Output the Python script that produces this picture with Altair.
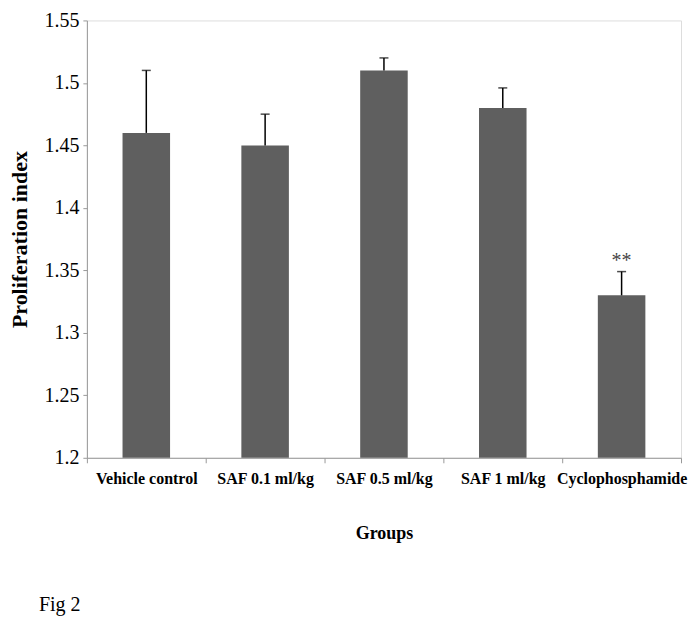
import altair as alt
import pandas as pd

groups = ["Vehicle control", "SAF 0.1 ml/kg", "SAF 0.5 ml/kg", "SAF 1 ml/kg", "Cyclophosphamide"]
means = [1.46, 1.45, 1.51, 1.48, 1.33]
errs = [0.05, 0.025, 0.01, 0.016, 0.019]
marks = ["", "", "", "", "**"]
y_ticks = [1.2, 1.25, 1.3, 1.35, 1.4, 1.45, 1.5, 1.55]

df = pd.DataFrame({"group": groups, "mean": means, "err": errs, "sig": marks})

SERIF = "Liberation Serif, Times New Roman, serif"

x_enc = alt.X(
    "group:N",
    sort=groups,
    scale=alt.Scale(paddingInner=0, paddingOuter=0),
    axis=alt.Axis(
        title="Groups",
        labelAngle=0,
        labelFont=SERIF,
        labelFontSize=16,
        labelFontWeight="bold",
        labelColor="black",
        labelPadding=8,
        titleFont=SERIF,
        titleFontSize=18,
        titleFontWeight="bold",
        titleColor="black",
        titlePadding=38,
        tickBand="extent",
        tickSize=5,
        tickColor="#999999",
        domainColor="#999999",
    ),
)

y_scale = alt.Scale(domain=[1.2, 1.55], zero=False, nice=False)

bars = alt.Chart(df).mark_bar(color="#5f5f5f", width=alt.RelativeBandSize(0.4)).encode(
    x=x_enc,
    y=alt.Y(
        "mean:Q",
        scale=y_scale,
        axis=alt.Axis(
            title="Proliferation index",
            values=y_ticks,
            format=".2~f",
            grid=False,
            labelFont=SERIF,
            labelFontSize=20,
            labelColor="black",
            labelPadding=4,
            titleFont=SERIF,
            titleFontSize=22,
            titleFontWeight="bold",
            titleColor="black",
            titlePadding=12,
            tickSize=4,
            tickColor="#999999",
            domainColor="#999999",
        ),
    ),
    y2=alt.datum(1.2),
)

base = alt.Chart(df).transform_calculate(top="datum.mean + datum.err")

err_rule = base.mark_rule(color="black", strokeWidth=1.5).encode(
    x=alt.X("group:N", sort=groups),
    y=alt.Y("mean:Q", scale=y_scale),
    y2="top:Q",
)

caps = base.mark_tick(color="black", size=9, thickness=1.5).encode(
    x=alt.X("group:N", sort=groups),
    y=alt.Y("top:Q", scale=y_scale),
)

sig_text = base.mark_text(font=SERIF, fontSize=20, color="#444444", dy=-11).encode(
    x=alt.X("group:N", sort=groups),
    y=alt.Y("top:Q", scale=y_scale),
    text="sig:N",
)

fig_label = alt.Chart(pd.DataFrame({"t": ["Fig 2"]})).mark_text(
    font=SERIF, fontSize=20, color="black", align="left", baseline="middle"
).encode(x=alt.value(-48), y=alt.value(585), text="t:N")

chart = (
    alt.layer(bars, err_rule, caps, sig_text, fig_label)
    .properties(
        width=595,
        height=438,
        autosize=alt.AutoSizeParams(type="none"),
        padding={"left": 79, "top": 12, "right": 10, "bottom": 160},
    )
    .configure_view(stroke=None)
    .configure(background="white")
)

chart.save("out.html", embed_options={"renderer": "svg", "actions": False})
